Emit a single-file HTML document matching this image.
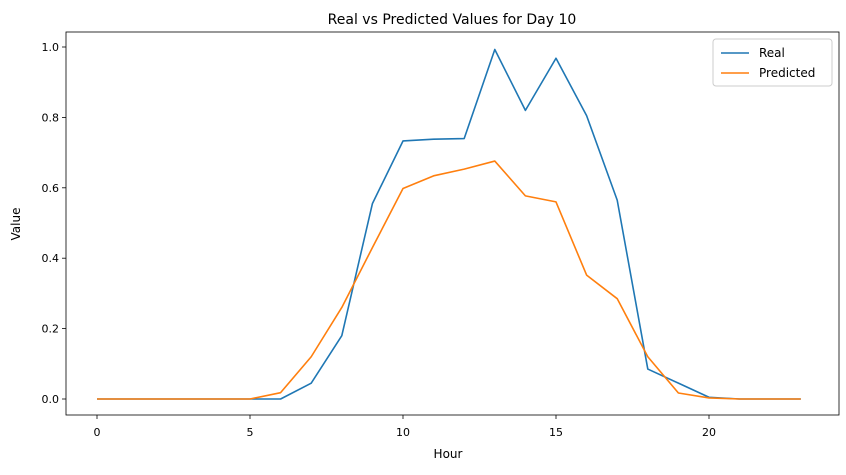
<!DOCTYPE html>
<html><head><meta charset="utf-8"><style>
body{margin:0;background:#fff;font-family:"Liberation Sans","DejaVu Sans",sans-serif}
svg text{font-family:"DejaVu Sans","Liberation Sans",sans-serif;fill:#000}
</style></head><body>
<svg id="c" width="846" height="470" viewBox="0 0 846 470" xmlns="http://www.w3.org/2000/svg">
<rect x="0" y="0" width="846" height="470" fill="#fff"/>
<text x="452" y="24" font-size="14" text-anchor="middle">Real vs Predicted Values for Day 10</text>
<g id="plot"></g>
<text x="448" y="458" font-size="12" text-anchor="middle">Hour</text>
<text x="20" y="224" font-size="12" text-anchor="middle" transform="rotate(-90 20 224)">Value</text>
</svg>
<script>
const hours=[0,1,2,3,4,5,6,7,8,9,10,11,12,13,14,15,16,17,18,19,20,21,22,23];
const realValues=[0,0,0,0,0,0,0,0.045,0.18,0.555,0.733,0.738,0.74,0.993,0.82,0.968,0.805,0.565,0.085,0.045,0.005,0,0,0];
const predictedValues=[0,0,0,0,0,0,0.018,0.12,0.26,0.43,0.598,0.634,0.653,0.676,0.577,0.56,0.352,0.285,0.12,0.017,0.003,0,0,0];
const xTicks=[0,5,10,15,20];
const yTicks=[0.0,0.2,0.4,0.6,0.8,1.0];
const NS="http://www.w3.org/2000/svg";
const L=66,R=839,T=32,B=415;
const xs=h=>97+(h-0)*(709-97)/20;
const ys=v=>399-v*(399-47);
const g=document.getElementById('plot');
function mk(t,a){const e=document.createElementNS(NS,t);for(const k in a)e.setAttribute(k,a[k]);g.appendChild(e);return e;}
xTicks.forEach(t=>{
 const l=mk('line',{x1:xs(t),x2:xs(t),y1:B,y2:B+4,stroke:'#000','stroke-width':0.8});
 
 
 const tx=mk('text',{x:xs(t),y:B+21,'font-size':11,'text-anchor':'middle'});tx.textContent=t;
 
 
});
yTicks.forEach(t=>{
 const l=mk('line',{x1:L-4,x2:L,y1:ys(t),y2:ys(t),stroke:'#000','stroke-width':0.8});
 
 
 const tx=mk('text',{x:L-7,y:ys(t)+4,'font-size':11,'text-anchor':'end'});tx.textContent=t.toFixed(1);
 
 
});
function line(vals,color,name){
 const p=mk('polyline',{points:hours.map((h,i)=>xs(h)+','+ys(vals[i])).join(' '),fill:'none',stroke:color,'stroke-width':1.6,'stroke-linejoin':'round'});
 
 
}
line(realValues,'#1f77b4','real-line');
line(predictedValues,'#ff7f0e','predicted-line');
const fr=mk('rect',{x:L,y:T,width:R-L,height:B-T,fill:'none',stroke:'#000','stroke-width':0.8});


const lg=mk('rect',{x:713,y:39,width:119,height:47,rx:3,fill:'#fff',stroke:'#ccc','stroke-width':1});


[['Real','#1f77b4',53],['Predicted','#ff7f0e',73]].forEach(([n,c,y])=>{
 const l=mk('line',{x1:721,x2:749,y1:y,y2:y,stroke:c,'stroke-width':1.6});
 
 
 const t=mk('text',{x:759,y:y+4,'font-size':12});t.textContent=n;
 
 
});
</script>
</body></html>
